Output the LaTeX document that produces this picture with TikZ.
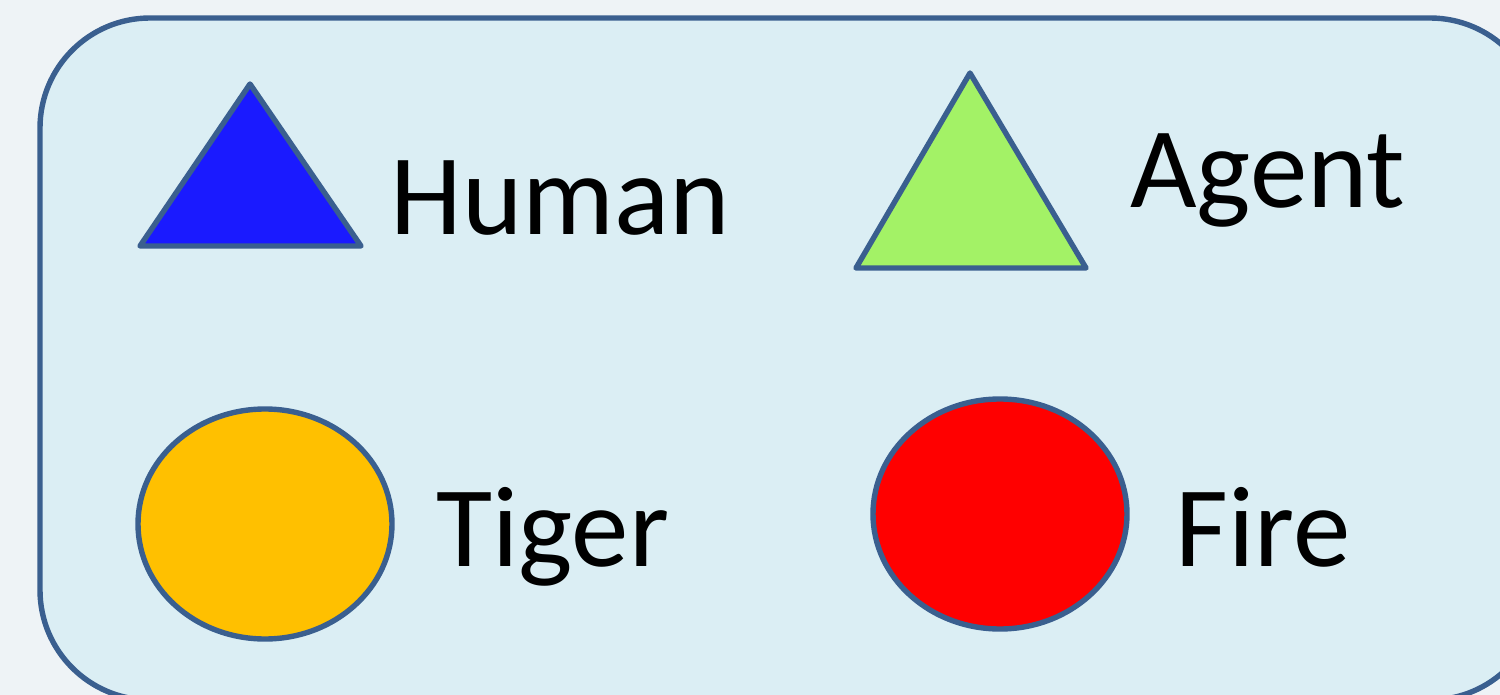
\documentclass[tikz,border=0pt]{standalone}
\usepackage{fontspec}
\setmainfont{Carlito}
\usetikzlibrary{shapes.geometric}
\definecolor{pagebg}{HTML}{EEF3F6}
\definecolor{boxfill}{HTML}{DBEEF4}
\definecolor{edge}{HTML}{3A5F8F}
\definecolor{humanblue}{HTML}{1A1AFF}
\definecolor{agentgreen}{HTML}{A3F266}
\definecolor{tigerorange}{HTML}{FFC000}
\definecolor{firered}{HTML}{FF0000}
\tikzset{
  outline/.style={draw=edge,line width=2.7pt,line join=round},
  blob/.style={outline,ellipse,minimum width=127pt,minimum height=115pt,inner sep=0pt},
  legendtext/.style={anchor=base west,inner sep=0pt,font=\fontsize{57.5}{62}\selectfont}
}
\begin{document}
\begin{tikzpicture}[x=0.5pt,y=-0.5pt]
\useasboundingbox (0,0) rectangle (1500,695);
\clip (0,0) rectangle (1500,695);
\fill[pagebg] (0,0) rectangle (1500,695);
\draw[outline,fill=boxfill,rounded corners=55pt] (40,18) rectangle (1540,700);
% triangles
\coordinate (h1) at (250,84);
\coordinate (h2) at (140,246);
\coordinate (h3) at (361,246);
\draw[outline,fill=humanblue] (h1) -- (h2) -- (h3) -- cycle;
\coordinate (a1) at (970,73);
\coordinate (a2) at (856,268);
\coordinate (a3) at (1086,268);
\draw[outline,fill=agentgreen] (a1) -- (a2) -- (a3) -- cycle;
% ellipses
\node[blob,fill=tigerorange] (tiger) at (265,524) {};
\node[blob,fill=firered] (fire) at (1000,514) {};
% labels
\node[legendtext] (human) at (390,235) {Human};
\node[legendtext] (agent) at (1130,208) {Agent};
\node[legendtext] (tigerlbl) at (436,566) {Tiger};
\node[legendtext] (firelbl) at (1175,566) {Fire};
\end{tikzpicture}
\end{document}
